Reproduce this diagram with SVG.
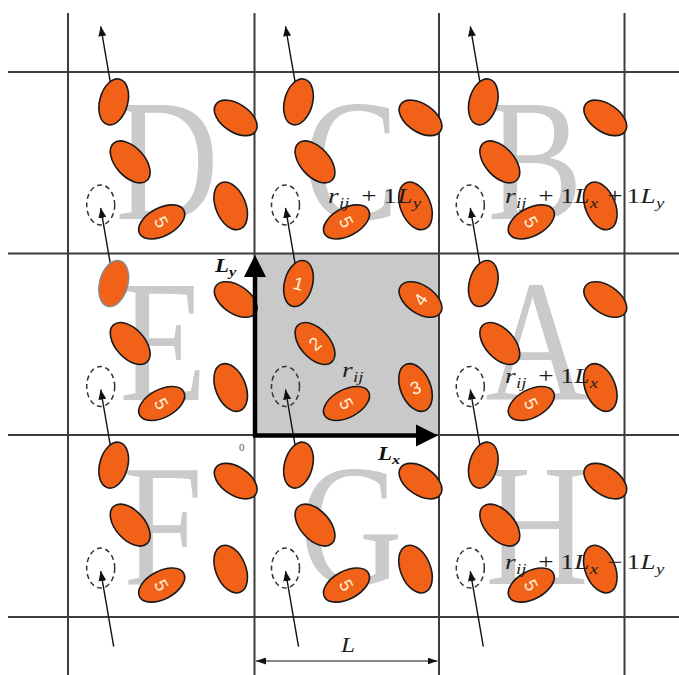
<svg xmlns="http://www.w3.org/2000/svg" width="679" height="675" viewBox="0 0 679 675">
  <style>
    .grid{stroke:#3c3c3c;stroke-width:2;fill:none}
    .p{fill:#f26118;stroke:#1a1a1a;stroke-width:1.6}
    .ghost{fill:none;stroke:#333;stroke-width:1.5;stroke-dasharray:5 3.5}
    .mv{stroke:#111;stroke-width:1.4;fill:none;marker-end:url(#ah)}
    .big{font-family:"Liberation Serif",serif;font-size:174px;fill:#cacaca;text-anchor:middle}
    .num{font-family:"Liberation Sans",sans-serif;font-size:18px;fill:#fff1d8;text-anchor:middle}
    .m{font-family:"Liberation Serif",serif;font-size:21px;fill:#1e1e1e}
    .it{font-style:italic}
    .sb{font-size:14.5px;font-style:italic}
    .ax{font-family:"Liberation Serif",serif;font-size:19px;font-weight:bold;font-style:italic;fill:#111}
  </style>
  <defs>
    <marker id="ah" markerUnits="userSpaceOnUse" markerWidth="10" markerHeight="8" refX="10" refY="4" orient="auto">
      <path d="M0,0 L10,4 L0,8 z" fill="#111"/>
    </marker>
    <marker id="dim" markerUnits="userSpaceOnUse" markerWidth="10" markerHeight="7" refX="10" refY="3.5" orient="auto-start-reverse">
      <path d="M0,0 L10,3.5 L0,7 z" fill="#111"/>
    </marker>
    <!-- particle shapes, centred on the origin -->
    <ellipse id="e1" rx="14" ry="23.5" transform="rotate(15)"/>
    <ellipse id="e2" rx="25" ry="14.5" transform="rotate(48)"/>
    <ellipse id="e3" rx="15" ry="25" transform="rotate(-22)"/>
    <ellipse id="e4" rx="24" ry="14" transform="rotate(34)"/>
    <ellipse id="e5" rx="25" ry="14" transform="rotate(-28)"/>
    <ellipse id="eg" rx="14" ry="20"/>
  </defs>

  <rect width="679" height="675" fill="#fff"/>

  <!-- home box -->
  <rect x="254.5" y="253.5" width="184.5" height="181.5" fill="#c9c9c9"/>

  <!-- image box letters -->
  <g id="letters">
    <text class="big" transform="translate(167,219) scale(0.82,1)">D</text>
    <text class="big" transform="translate(351,219) scale(0.82,1)">C</text>
    <text class="big" transform="translate(535,219) scale(0.82,1)">B</text>
    <text class="big" transform="translate(163,400) scale(0.82,1)">E</text>
    <text class="big" transform="translate(537,400) scale(0.82,1)">A</text>
    <text class="big" transform="translate(163,584) scale(0.82,1)">F</text>
    <text class="big" transform="translate(351,584) scale(0.82,1)">G</text>
    <text class="big" transform="translate(537,584) scale(0.82,1)">H</text>
  </g>

  <!-- grid -->
  <g id="grid" class="grid">
    <line x1="68" y1="13" x2="68" y2="675"/>
    <line x1="254.5" y1="13" x2="254.5" y2="675"/>
    <line x1="439" y1="13" x2="439" y2="675"/>
    <line x1="624.5" y1="13" x2="624.5" y2="675"/>
    <line x1="8" y1="72" x2="679" y2="72"/>
    <line x1="8" y1="253.5" x2="679" y2="253.5"/>
    <line x1="8" y1="435" x2="679" y2="435"/>
    <line x1="8" y1="617" x2="679" y2="617"/>
  </g>

  <!-- displacement of particle 1 into the neighbouring box -->
  <g id="connectors">
    <line class="mv" x1="113.7" y1="101.9" x2="100.7" y2="26.3"/>
    <line class="mv" x1="298.5" y1="101.9" x2="285.5" y2="26.3"/>
    <line class="mv" x1="483.3" y1="101.9" x2="470.3" y2="26.3"/>
    <line class="mv" x1="113.7" y1="283.5" x2="100.7" y2="207.9"/>
    <line class="mv" x1="298.5" y1="283.5" x2="285.5" y2="207.9"/>
    <line class="mv" x1="483.3" y1="283.5" x2="470.3" y2="207.9"/>
    <line class="mv" x1="113.7" y1="465.1" x2="100.7" y2="389.5"/>
    <line class="mv" x1="298.5" y1="465.1" x2="285.5" y2="389.5"/>
    <line class="mv" x1="483.3" y1="465.1" x2="470.3" y2="389.5"/>
    <line class="mv" x1="113.7" y1="646.7" x2="100.7" y2="571.1"/>
    <line class="mv" x1="298.5" y1="646.7" x2="285.5" y2="571.1"/>
    <line class="mv" x1="483.3" y1="646.7" x2="470.3" y2="571.1"/>
    <line x1="256" y1="661" x2="437.5" y2="661" stroke="#111" stroke-width="1.2" marker-start="url(#dim)" marker-end="url(#dim)"/>
  </g>

  <!-- box D -->
  <g id="box-D">
    <use href="#eg" class="ghost" x="100.7" y="204.9"/>
    <use href="#e1" class="p" x="113.7" y="101.9"/>
    <use href="#e2" class="p" x="130.2" y="161.9"/>
    <use href="#e3" class="p" x="230.7" y="205.9"/>
    <use href="#e4" class="p" x="235.7" y="117.9"/>
    <use href="#e5" class="p" x="161.7" y="221.9"/>
    <text class="num" transform="translate(161.7,221.9) rotate(62)" y="6.5">5</text>
  </g>
  <!-- box C -->
  <g id="box-C">
    <use href="#eg" class="ghost" x="285.5" y="204.9"/>
    <use href="#e1" class="p" x="298.5" y="101.9"/>
    <use href="#e2" class="p" x="315" y="161.9"/>
    <use href="#e3" class="p" x="415.5" y="205.9"/>
    <use href="#e4" class="p" x="420.5" y="117.9"/>
    <use href="#e5" class="p" x="346.5" y="221.9"/>
    <text class="num" transform="translate(346.5,221.9) rotate(62)" y="6.5">5</text>
  </g>
  <!-- box B -->
  <g id="box-B">
    <use href="#eg" class="ghost" x="470.3" y="204.9"/>
    <use href="#e1" class="p" x="483.3" y="101.9"/>
    <use href="#e2" class="p" x="499.8" y="161.9"/>
    <use href="#e3" class="p" x="600.3" y="205.9"/>
    <use href="#e4" class="p" x="605.3" y="117.9"/>
    <use href="#e5" class="p" x="531.3" y="221.9"/>
    <text class="num" transform="translate(531.3,221.9) rotate(62)" y="6.5">5</text>
  </g>
  <!-- box E -->
  <g id="box-E">
    <use href="#eg" class="ghost" x="100.7" y="386.5"/>
    <use href="#e1" class="p" x="113.7" y="283.5" style="stroke:#8a8a8a"/>
    <use href="#e2" class="p" x="130.2" y="343.5"/>
    <use href="#e3" class="p" x="230.7" y="387.5"/>
    <use href="#e4" class="p" x="235.7" y="299.5"/>
    <use href="#e5" class="p" x="161.7" y="403.5"/>
    <text class="num" transform="translate(161.7,403.5) rotate(62)" y="6.5">5</text>
  </g>
  <!-- home box particles -->
  <g id="box-home">
    <use href="#eg" class="ghost" x="285.5" y="386.5"/>
    <use href="#e1" class="p" x="298.5" y="283.5"/>
    <use href="#e2" class="p" x="315" y="343.5"/>
    <use href="#e3" class="p" x="415.5" y="387.5"/>
    <use href="#e4" class="p" x="420.5" y="299.5"/>
    <use href="#e5" class="p" x="346.5" y="403.5"/>
    <text class="num" transform="translate(298.5,283.5) rotate(15)" y="6.5">1</text>
    <text class="num" transform="translate(315,343.5) rotate(-40)" y="6.5">2</text>
    <text class="num" transform="translate(415.5,387.5) rotate(-22)" y="6.5">3</text>
    <text class="num" transform="translate(420.5,299.5) rotate(-56)" y="6.5">4</text>
    <text class="num" transform="translate(346.5,403.5) rotate(62)" y="6.5">5</text>
  </g>
  <!-- box A -->
  <g id="box-A">
    <use href="#eg" class="ghost" x="470.3" y="386.5"/>
    <use href="#e1" class="p" x="483.3" y="283.5"/>
    <use href="#e2" class="p" x="499.8" y="343.5"/>
    <use href="#e3" class="p" x="600.3" y="387.5"/>
    <use href="#e4" class="p" x="605.3" y="299.5"/>
    <use href="#e5" class="p" x="531.3" y="403.5"/>
    <text class="num" transform="translate(531.3,403.5) rotate(62)" y="6.5">5</text>
  </g>
  <!-- box F -->
  <g id="box-F">
    <use href="#eg" class="ghost" x="100.7" y="568.1"/>
    <use href="#e1" class="p" x="113.7" y="465.1"/>
    <use href="#e2" class="p" x="130.2" y="525.1"/>
    <use href="#e3" class="p" x="230.7" y="569.1"/>
    <use href="#e4" class="p" x="235.7" y="481.1"/>
    <use href="#e5" class="p" x="161.7" y="585.1"/>
    <text class="num" transform="translate(161.7,585.1) rotate(62)" y="6.5">5</text>
  </g>
  <!-- box G -->
  <g id="box-G">
    <use href="#eg" class="ghost" x="285.5" y="568.1"/>
    <use href="#e1" class="p" x="298.5" y="465.1"/>
    <use href="#e2" class="p" x="315" y="525.1"/>
    <use href="#e3" class="p" x="415.5" y="569.1"/>
    <use href="#e4" class="p" x="420.5" y="481.1"/>
    <use href="#e5" class="p" x="346.5" y="585.1"/>
    <text class="num" transform="translate(346.5,585.1) rotate(62)" y="6.5">5</text>
  </g>
  <!-- box H -->
  <g id="box-H">
    <use href="#eg" class="ghost" x="470.3" y="568.1"/>
    <use href="#e1" class="p" x="483.3" y="465.1"/>
    <use href="#e2" class="p" x="499.8" y="525.1"/>
    <use href="#e3" class="p" x="600.3" y="569.1"/>
    <use href="#e4" class="p" x="605.3" y="481.1"/>
    <use href="#e5" class="p" x="531.3" y="585.1"/>
    <text class="num" transform="translate(531.3,585.1) rotate(62)" y="6.5">5</text>
  </g>

  <!-- position labels -->
  <g id="labels" class="m">
    <text transform="translate(342,377) scale(1.3,1)"><tspan class="it" x="0">r</tspan><tspan class="sb" x="8.5" y="4.5">ij</tspan></text>
    <text transform="translate(328,203) scale(1.3,1)"><tspan class="it" x="0">r</tspan><tspan class="sb" x="8.5" y="4.5">ij</tspan><tspan x="25.6" y="0">+</tspan><tspan x="42.5">1</tspan><tspan class="it" x="53.2">L</tspan><tspan class="sb" x="65.2" y="4.5">y</tspan></text>
    <text transform="translate(505,203) scale(1.3,1)"><tspan class="it" x="0">r</tspan><tspan class="sb" x="8.5" y="4.5">ij</tspan><tspan x="25.6" y="0">+</tspan><tspan x="42.5">1</tspan><tspan class="it" x="53.2">L</tspan><tspan class="sb" x="65.2" y="4.5">x</tspan><tspan x="78.7" y="0">+</tspan><tspan x="93.5">1</tspan><tspan class="it" x="104.2">L</tspan><tspan class="sb" x="116.2" y="4.5">y</tspan></text>
    <text transform="translate(505,383) scale(1.3,1)"><tspan class="it" x="0">r</tspan><tspan class="sb" x="8.5" y="4.5">ij</tspan><tspan x="25.6" y="0">+</tspan><tspan x="42.5">1</tspan><tspan class="it" x="53.2">L</tspan><tspan class="sb" x="65.2" y="4.5">x</tspan></text>
    <text transform="translate(505,569) scale(1.3,1)"><tspan class="it" x="0">r</tspan><tspan class="sb" x="8.5" y="4.5">ij</tspan><tspan x="25.6" y="0">+</tspan><tspan x="42.5">1</tspan><tspan class="it" x="53.2">L</tspan><tspan class="sb" x="65.2" y="4.5">x</tspan><tspan x="78.7" y="0">−</tspan><tspan x="93.5">1</tspan><tspan class="it" x="104.2">L</tspan><tspan class="sb" x="116.2" y="4.5">y</tspan></text>
  </g>

  <!-- box vectors -->
  <g id="axes">
    <line x1="255" y1="437" x2="255" y2="272" stroke="#000" stroke-width="4.5"/>
    <path d="M255,255 L266,277 L244,277 z" fill="#000"/>
    <line x1="253" y1="435.5" x2="420" y2="435.5" stroke="#000" stroke-width="4.5"/>
    <path d="M438,435.5 L416,424.5 L416,446.5 z" fill="#000"/>
    <text class="ax" transform="translate(215,272) scale(1.2,1)">L<tspan font-size="13.5" dy="4">y</tspan></text>
    <text class="ax" transform="translate(378,460) scale(1.2,1)">L<tspan font-size="13.5" dy="4">x</tspan></text>
    <text x="239" y="451" font-family="Liberation Serif,serif" font-size="11" fill="#555">0</text>
    <text class="m it" transform="translate(341,652) scale(1.2,1)" font-size="18">L</text>
  </g>
</svg>
